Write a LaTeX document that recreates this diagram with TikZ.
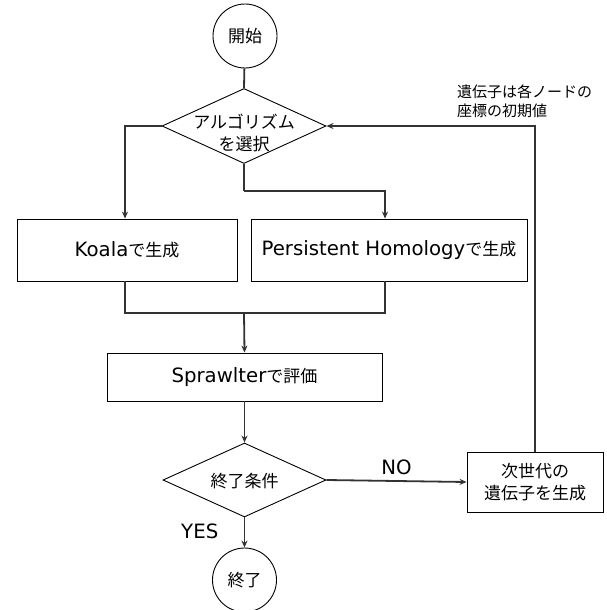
\documentclass[tikz,border=0pt]{standalone}
\usepackage{fontspec}
\setmainfont{Noto Sans CJK JP}
\newfontfamily\lat[Scale=1.16]{DejaVu Sans}
\usetikzlibrary{shapes.geometric,arrows.meta,calc}
\begin{document}
\begin{tikzpicture}[x=1pt,y=-1pt,
  every node/.style={font=\fontsize{17}{22}\selectfont, text=black},
  term/.style={draw=black, line width=0.9pt, circle, minimum size=64pt, inner sep=0pt},
  dec/.style={draw=black, line width=0.9pt, diamond, inner sep=0pt},
  proc/.style={draw=black, line width=0.9pt, rectangle, inner sep=0pt},
  conn/.style={draw=black!80, line width=1.8pt},
  arr/.style={conn, -{Stealth[length=7pt,width=6pt]}},
  lbl/.style={font=\fontsize{17}{22}\selectfont\lat},
  note/.style={font=\fontsize{15}{19}\selectfont, align=left, anchor=north west, inner sep=0pt}]
\useasboundingbox (0,0) rectangle (607,610);
% nodes
\node[term] (start) at (245,36) {開始};
\node[dec, minimum width=164pt, minimum height=75pt] (sel) at (244,126) {};
\node[align=center, inner sep=0pt] (selt) at (244,133) {アルゴリズム\\を選択};
\node[proc, minimum width=220pt, minimum height=62pt] (koala) at (127,250) {{\lat Koala}で生成};
\node[proc, minimum width=276pt, minimum height=62pt] (ph) at (389,250) {{\lat Persistent Homology}で生成};
\node[proc, minimum width=275pt, minimum height=48pt] (spr) at (244.5,377) {{\lat Sprawlter}で評価};
\node[dec, minimum width=163pt, minimum height=74pt] (cond) at (244.5,480) {};
\node[inner sep=0pt] (condt) at (244.5,481) {終了条件};
\node[proc, minimum width=136pt, minimum height=60pt, align=center] (next) at (535,482) {次世代の\\遺伝子を生成};
\node[term] (stop) at (244.5,580) {終了};
\node[note] (note) at (457,85) {遺伝子は各ノードの\\座標の初期値};
% helper coordinates
\coordinate (kx) at (125,0);
\coordinate (px) at (385,0);
\coordinate (fork) at (244,191);
\coordinate (merge) at (244,313);
% connectors
\draw[conn] (start) -- (sel.north);
\draw[arr] (sel.west) -| (kx |- koala.north);
\draw[conn] (sel.south) -- (fork);
\draw[arr] (fork) -| (px |- ph.north);
\draw[conn] (kx |- koala.south) |- (merge);
\draw[conn] (px |- ph.south) |- (merge);
\draw[arr] (merge) -- (spr.north);
\draw[arr] (spr.south -| cond.north) -- (cond.north);
\draw[arr] (cond.east) -- node[lbl, above, pos=0.5, yshift=2pt] {NO} (next.west);
\draw[arr] (next.north) |- (sel.east);
\draw[arr] (cond.south) -- node[lbl, left, pos=0.45, xshift=-22pt] {YES} (stop.north);
\end{tikzpicture}
\end{document}
